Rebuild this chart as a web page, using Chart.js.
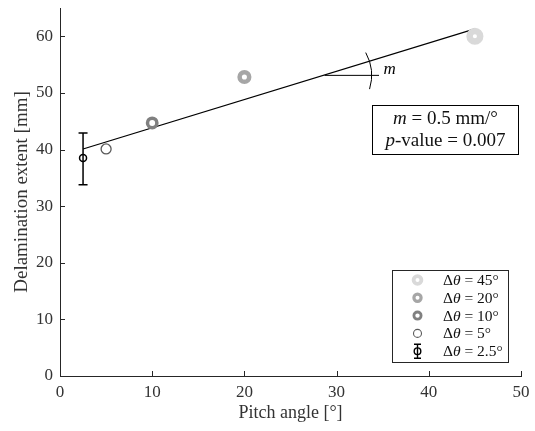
<!DOCTYPE html>
<html><head><meta charset="utf-8">
<script src="https://cdn.jsdelivr.net/npm/chart.js@4.4.1/dist/chart.umd.min.js"></script>
<style>html,body{margin:0;padding:0;background:#fff}#wrap{width:535px;height:431px;position:relative}</style>
</head><body><div id="wrap"><canvas id="c" width="535" height="431"></canvas></div>
<script>
// ---- data ----
const seriesLabels = ['Δθ = 45°', 'Δθ = 20°', 'Δθ = 10°', 'Δθ = 5°', 'Δθ = 2.5°'];
const legendValues = ['45°', '20°', '10°', '5°', '2.5°'];
const pitchAngles  = [45, 20, 10, 5, 2.5];
const extents      = [60.0, 52.8, 44.7, 40.1, 38.5];
const errLow       = [null, null, null, null, 33.8];
const errHigh      = [null, null, null, null, 42.9];
const fitX = [2.5, 45];
const fitY = [40.1, 61.3];
const slopeMarkX = [28.7, 34.6];
const slopeMarkY = [53.1, 53.1];
const xTicks = [0, 10, 20, 30, 40, 50];
const yTicks = [0, 10, 20, 30, 40, 50, 60];

// ---- styles ----
const colors  = ['#d9d9d9', '#a6a6a6', '#808080', '#5a5a5a', '#000000'];
const radii   = [5.3, 4.8, 4.7, 5.0, 3.5];
const widths  = [6.5, 4.5, 3.5, 1.3, 1.5];
const lradii  = [3.9, 3.6, 3.6, 4.0, 3.3];
const lwidths = [3.8, 3.2, 2.8, 1.1, 1.4];
const SERIF = '"Liberation Serif", "DejaVu Serif", serif';
const AX = '#262626';

const datasets = [];
datasets.push({type:'line', label:'fit', data: fitX.map((x,i)=>({x, y: fitY[i]})),
  borderColor:'#000', borderWidth:1.2, pointRadius:0, fill:false, order:10});
datasets.push({type:'line', label:'slopeMark', data: slopeMarkX.map((x,i)=>({x, y: slopeMarkY[i]})),
  borderColor:'#000', borderWidth:1, pointRadius:0, fill:false, order:10});
seriesLabels.forEach((lab, i) => {
  datasets.push({type:'scatter', label: lab, data:[{x: pitchAngles[i], y: extents[i]}],
    pointRadius: radii[i], pointHoverRadius: radii[i], pointBorderWidth: widths[i],
    borderColor: colors[i], backgroundColor: 'rgba(0,0,0,0)', order: 1});
});

function drawParts(ctx, parts, size, x, y) {
  parts.forEach(([t, s]) => { ctx.font = (s? s+' ':'') + size + 'px ' + SERIF; ctx.fillText(t, x, y); x += ctx.measureText(t).width; });
}
function partsWidth(ctx, parts, size) {
  let w = 0;
  parts.forEach(([t, s]) => { ctx.font = (s? s+' ':'') + size + 'px ' + SERIF; w += ctx.measureText(t).width; });
  return w;
}

const extras = {
  id:'extras',
  afterDatasetsDraw(chart) {
    const ctx = chart.ctx, xs = chart.scales.x, ys = chart.scales.y;
    ctx.save();
    // inward ticks
    ctx.strokeStyle = AX; ctx.lineWidth = 1;
    xTicks.forEach(v => { const px = Math.round(xs.getPixelForValue(v))+0.5;
      ctx.beginPath(); ctx.moveTo(px, ys.bottom); ctx.lineTo(px, ys.bottom-5); ctx.stroke(); });
    yTicks.forEach(v => { const py = Math.round(ys.getPixelForValue(v))+0.5;
      ctx.beginPath(); ctx.moveTo(xs.left, py); ctx.lineTo(xs.left+5, py); ctx.stroke(); });
    // error bars
    ctx.strokeStyle = '#000'; ctx.lineWidth = 1.5;
    pitchAngles.forEach((x, i) => {
      if (errLow[i] == null) return;
      const px = xs.getPixelForValue(x), pl = ys.getPixelForValue(errLow[i]), ph = ys.getPixelForValue(errHigh[i]);
      ctx.beginPath(); ctx.moveTo(px, pl); ctx.lineTo(px, ph);
      ctx.moveTo(px-4.5, pl); ctx.lineTo(px+4.5, pl);
      ctx.moveTo(px-4.5, ph); ctx.lineTo(px+4.5, ph); ctx.stroke();
    });
    // slope arc
    const cx = xs.getPixelForValue(slopeMarkX[0]), cy = ys.getPixelForValue(slopeMarkY[0]);
    ctx.lineWidth = 1; ctx.beginPath();
    ctx.arc(cx, cy, 47, -29*Math.PI/180, 17*Math.PI/180); ctx.stroke();
    ctx.fillStyle = '#000'; ctx.font = 'italic 17px ' + SERIF;
    ctx.textAlign = 'left'; ctx.textBaseline = 'middle';
    ctx.fillText('m', cx + 59, cy - 6);
    // stats box
    ctx.lineWidth = 1; ctx.strokeStyle = '#000';
    ctx.strokeRect(372.5, 105.5, 146, 49);
    ctx.fillStyle = '#111';
    const line1 = [['m', 'italic'], [' = 0.5 mm/°', '']];
    const line2 = [['p', 'italic'], ['-value = 0.007', '']];
    [[line1, 119], [line2, 141]].forEach(([parts, y]) => {
      const tw = partsWidth(ctx, parts, 19);
      drawParts(ctx, parts, 19, 445.5 - tw/2, y);
    });
    // legend
    ctx.strokeStyle = AX; ctx.lineWidth = 1;
    ctx.strokeRect(392.5, 270.5, 116, 92);
    const ly0 = 280, ldy = 17.8, mx = 417.5;
    seriesLabels.forEach((lab, i) => {
      const y = ly0 + i*ldy;
      ctx.strokeStyle = colors[i]; ctx.lineWidth = lwidths[i];
      ctx.beginPath(); ctx.arc(mx, y, lradii[i], 0, 2*Math.PI); ctx.stroke();
      if (errLow[i] != null) {
        ctx.lineWidth = 1.4; ctx.beginPath();
        ctx.moveTo(mx, y-7); ctx.lineTo(mx, y+7);
        ctx.moveTo(mx-3.5, y-7); ctx.lineTo(mx+3.5, y-7);
        ctx.moveTo(mx-3.5, y+7); ctx.lineTo(mx+3.5, y+7); ctx.stroke();
      }
      ctx.fillStyle = '#111';
      drawParts(ctx, [['Δ',''], ['θ','italic'], [' = ' + legendValues[i], '']], 15.5, 443, y+1);
    });
    ctx.restore();
  }
};

new Chart(document.getElementById('c'), {
  data: { datasets },
  plugins: [extras],
  options: {
    responsive:false, animation:false, devicePixelRatio:1,
    layout:{ autoPadding:false, padding:{ top:8, right:14, left:0, bottom:0 } },
    plugins:{ legend:{display:false}, tooltip:{enabled:false} },
    scales:{
      x:{ type:'linear', min:0, max:50,
        afterBuildTicks: s => { s.ticks = xTicks.map(v => ({value:v})); },
        afterFit: s => { s.height = 55; s.paddingLeft = 0; s.paddingRight = 0; },
        grid:{ display:false, drawTicks:false }, border:{ display:true, color:AX, width:1 },
        ticks:{ color:'#333', font:{ family:SERIF, size:17 }, padding:6, maxRotation:0 },
        title:{ display:true, text:'Pitch angle [°]', color:'#333', font:{ family:SERIF, size:18 }, padding:{top:7,bottom:7} } },
      y:{ type:'linear', min:0, max:65,
        afterBuildTicks: s => { s.ticks = yTicks.map(v => ({value:v})); },
        afterFit: s => { s.width = 60; s.paddingTop = 0; s.paddingBottom = 0; },
        grid:{ display:false, drawTicks:false }, border:{ display:true, color:AX, width:1 },
        ticks:{ color:'#333', font:{ family:SERIF, size:17 }, padding:7 },
        title:{ display:true, text:'Delamination extent [mm]', color:'#333', font:{ family:SERIF, size:19 }, padding:{top:11,bottom:11} } }
    }
  }
});
</script></body></html>
